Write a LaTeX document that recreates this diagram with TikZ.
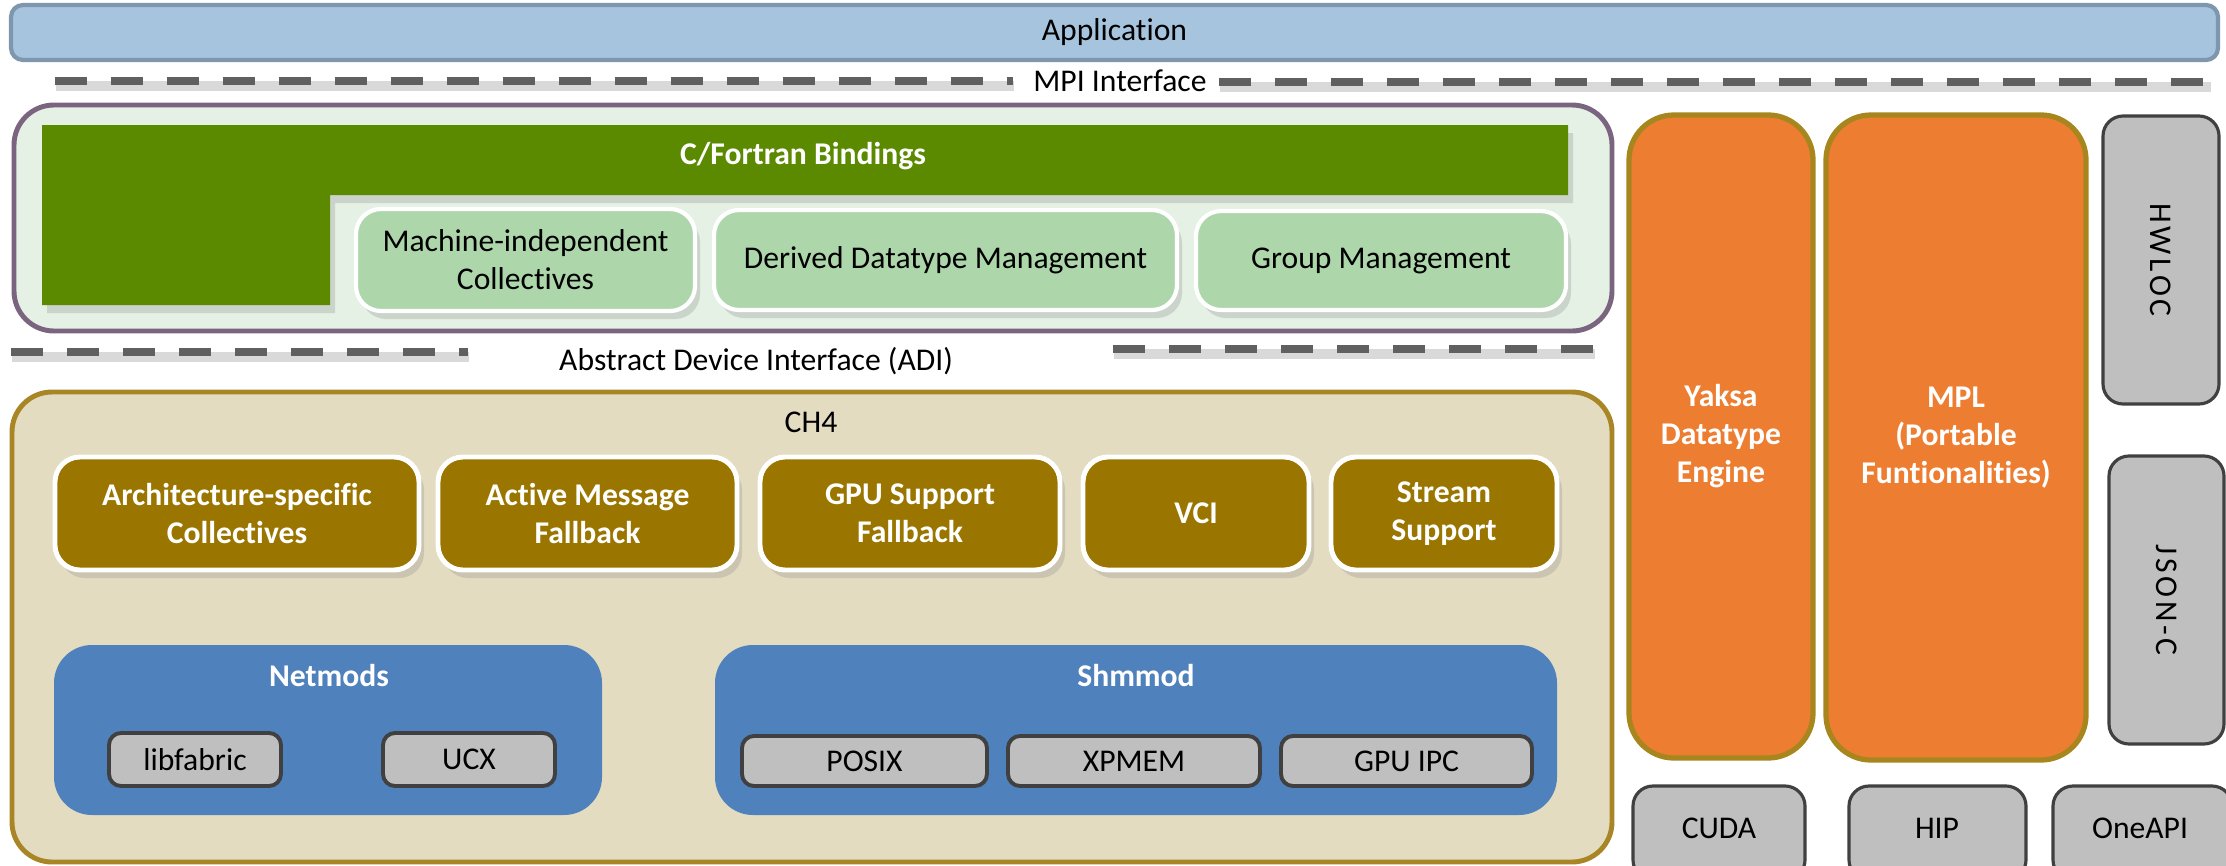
\documentclass[tikz,border=0pt]{standalone}
\usepackage{fontspec}
\setmainfont{Carlito}[Ligatures=NoCommon]
\usetikzlibrary{shadows}
\definecolor{appfill}{HTML}{A7C4DE}
\definecolor{appdraw}{HTML}{7F97AE}
\definecolor{bindfill}{HTML}{E4F1E4}
\definecolor{binddraw}{HTML}{7B6480}
\definecolor{cfgreen}{HTML}{5B8A00}
\definecolor{lgreen}{HTML}{ADD6AA}
\definecolor{chfill}{HTML}{E3DCC1}
\definecolor{chdraw}{HTML}{A88625}
\definecolor{brown}{HTML}{9A7600}
\definecolor{blue}{HTML}{4F81BD}
\definecolor{grayfill}{HTML}{BFBFBF}
\definecolor{graydraw}{HTML}{404040}
\definecolor{orange}{HTML}{ED7D31}
\definecolor{orangedraw}{HTML}{A8861E}
\definecolor{dashc}{HTML}{606060}
\newcommand\mybox[7]{\node[#1, minimum width={(#4-#2)*0.1mm}, minimum height={(#5-#3)*0.1mm}] (#6) at ({(#2+#4)/2},{(#3+#5)/2}) {#7};}
\tikzset{
  txt/.style={font=\fontsize{9}{10.8}\selectfont, align=center, inner sep=0pt},
  btxt/.style={txt, font=\fontsize{9}{10.8}\selectfont\bfseries, text=white},
  softshadow/.style={drop shadow={opacity=0.25, shadow xshift=0.5mm, shadow yshift=-0.8mm}},
  appbox/.style={txt, draw=appdraw, fill=appfill, line width=1.2pt, rounded corners=1.2mm},
  outerbind/.style={draw=binddraw, fill=bindfill, line width=1.4pt, rounded corners=4mm, inner sep=0pt},
  lgbox/.style={txt, fill=lgreen, draw=white, line width=1.2pt, rounded corners=2.5mm, softshadow},
  chbox/.style={draw=chdraw, fill=chfill, line width=1.4pt, rounded corners=4mm, inner sep=0pt},
  brbox/.style={btxt, fill=brown, draw=white, line width=1.4pt, rounded corners=2.5mm, softshadow},
  blbox/.style={btxt, fill=blue, rounded corners=3.8mm},
  gybox/.style={txt, fill=grayfill, draw=graydraw, line width=1.1pt, rounded corners=1.2mm},
  orbox/.style={btxt, fill=orange, draw=orangedraw, line width=1.5pt, rounded corners=4.5mm},
  sideg/.style={txt, fill=grayfill, draw=graydraw, line width=0.9pt, rounded corners=2mm},
  sep/.style={draw=dashc, line width=2.4pt, dash pattern=on 3.2mm off 2.4mm,
     preaction={draw=black!15, line width=2.6pt, transform canvas={xshift=0.1mm,yshift=-0.5mm}}},
}
\begin{document}
\begin{tikzpicture}[x=0.1mm,y=-0.1mm]
\useasboundingbox (0,0) rectangle (2226,865);
\clip (0,0) rectangle (2226,865);

% Application
\mybox{appbox}{11}{5}{2218}{60}{app}{Application}

% MPI interface
\node[txt] (mpi) at (1120,81) {MPI Interface};
\coordinate (mpiA) at (55,81);
\coordinate (mpiB) at (1013,81);
\coordinate (mpiC) at (1219,82);
\coordinate (mpiD) at (2210,82);
\draw[sep] (mpiA) -- (mpiB);
\draw[sep] (mpiC) -- (mpiD);

% Bindings container
\mybox{outerbind}{14}{105}{1612}{331}{bind}{}
\fill[cfgreen, softshadow] (42,125) -- (1568,125) -- (1568,195) -- (330,195) -- (330,305) -- (42,305) -- cycle;
\node[btxt] (cfb) at (803,156) {C/Fortran Bindings};
\mybox{lgbox}{356}{209}{695}{311}{mic}{Machine-independent\\Collectives}
\mybox{lgbox}{714}{210}{1177}{310}{ddm}{Derived Datatype Management}
\mybox{lgbox}{1196}{211}{1566}{310}{gm}{Group Management}

% ADI
\node[txt] (adi) at (756,361) {Abstract Device Interface (ADI)};
\coordinate (adiA) at (11,352);
\coordinate (adiB) at (468,352);
\coordinate (adiC) at (1113,349);
\coordinate (adiD) at (1594,349);
\draw[sep] (adiA) -- (adiB);
\draw[sep] (adiC) -- (adiD);

% CH4
\mybox{chbox}{12}{392}{1612}{862}{ch4}{}
\node[txt] (ch4l) at (811,422) {CH4};
\mybox{brbox}{55}{457}{419}{570}{arch}{Architecture-specific\\Collectives}
\mybox{brbox}{438}{457}{737}{570}{amf}{Active Message\\Fallback}
\mybox{brbox}{760}{457}{1060}{570}{gsf}{GPU Support\\Fallback}
\mybox{brbox}{1083}{457}{1309}{570}{vci}{VCI}
\mybox{brbox}{1331}{457}{1557}{570}{ss}{Stream\\Support}

% Netmods / Shmmod
\mybox{blbox}{54}{645}{602}{815}{net}{}
\node[btxt] (netl) at (329,676) {Netmods};
\mybox{blbox}{715}{645}{1557}{815}{shm}{}
\node[btxt] (shml) at (1136,676) {Shmmod};
\mybox{gybox}{109}{733}{281}{786}{lf}{libfabric}
\mybox{gybox}{383}{733}{555}{786}{ucx}{UCX}
\mybox{gybox}{742}{736}{987}{786}{posix}{POSIX}
\mybox{gybox}{1008}{736}{1260}{786}{xpmem}{XPMEM}
\mybox{gybox}{1281}{736}{1532}{786}{gpuipc}{GPU IPC}

% Right column
\mybox{orbox}{1629}{115}{1813}{758}{yaksa}{Yaksa\\Datatype\\Engine}
\mybox{orbox}{1826}{115}{2086}{760}{mpl}{MPL\\(Portable\\Funtionalities)}
\mybox{sideg}{2103}{116}{2219}{404}{hwloc}{}
\node[txt, rotate=-90, font=\fontsize{9}{10.8}\selectfont\addfontfeatures{LetterSpace=12}] (hwlocl) at (hwloc.center) {HWLOC};
\mybox{sideg}{2109}{456}{2224}{744}{json}{}
\node[txt, rotate=-90, font=\fontsize{9}{10.8}\selectfont\addfontfeatures{LetterSpace=12}] (jsonl) at (json.center) {JSON-C};
\mybox{sideg}{1633}{786}{1805}{880}{cuda}{}
\node[txt] (cudal) at (1719,828) {CUDA};
\mybox{sideg}{1849}{786}{2026}{880}{hip}{}
\node[txt] (hipl) at (1937,828) {HIP};
\mybox{sideg}{2053}{786}{2232}{880}{oneapi}{}
\node[txt] (oneapil) at (2140,828) {OneAPI};
\end{tikzpicture}
\end{document}
